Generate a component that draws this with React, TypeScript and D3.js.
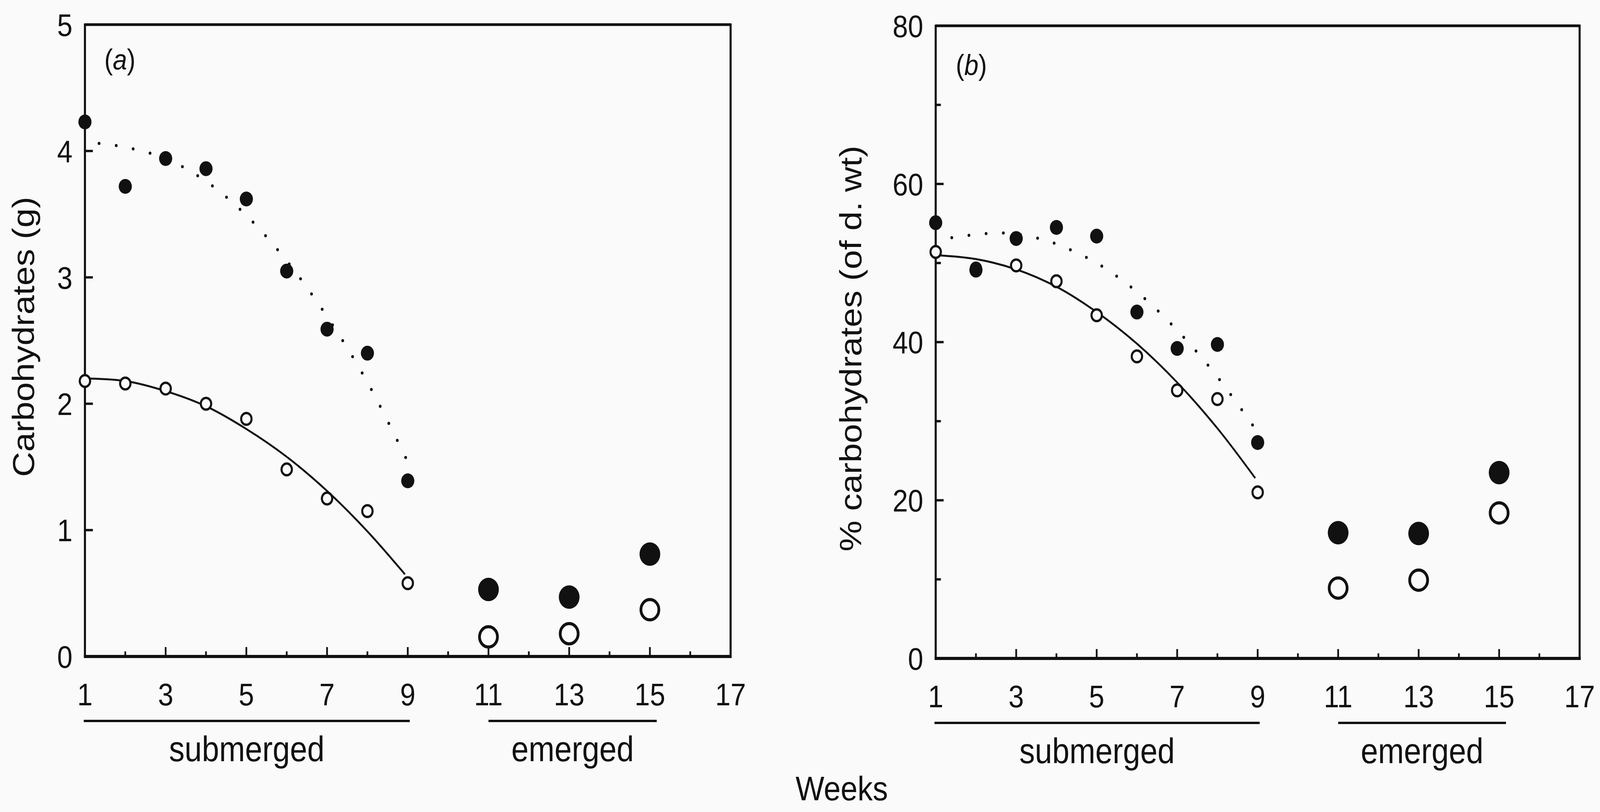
import React, { useEffect } from 'react';
import * as d3 from 'd3';

// ---------- data ----------
const weeksSub = [1, 2, 3, 4, 5, 6, 7, 8, 9];
const weeksEm = [11, 13, 15];
const xTickWeeks = [1, 2, 3, 4, 5, 6, 7, 8, 9, 10, 11, 12, 13, 14, 15, 16, 17];
const xLabelWeeks = [1, 3, 5, 7, 9, 11, 13, 15, 17];

// panel (a) Carbohydrates (g)
const aFilledSub = [4.23, 3.72, 3.94, 3.86, 3.62, 3.05, 2.59, 2.4, 1.39];
const aOpenSub = [2.18, 2.16, 2.12, 2.0, 1.88, 1.48, 1.25, 1.15, 0.58];
const aFilledEm = [0.53, 0.47, 0.81];
const aOpenEm = [0.155, 0.18, 0.37];
const aSolidWeeks = [1, 2, 3, 4, 5, 6, 7, 8, 8.93];
const aSolidVals = [2.2, 2.18, 2.1, 1.98, 1.8, 1.58, 1.31, 0.99, 0.65];
const aDotWeeks = [1.35, 2, 3, 4, 5, 6, 7, 8, 9];
const aDotVals = [4.06, 4.03, 3.94, 3.76, 3.49, 3.13, 2.69, 2.17, 1.54];
const aYTicks = [0, 1, 2, 3, 4, 5];
const aYMinor: number[] = [];

// panel (b) % carbohydrates (of d. wt)
const bFilledSub = [55.1, 49.1, 53.1, 54.5, 53.4, 43.8, 39.2, 39.7, 27.3];
const bOpenSub = [51.4, 49.3, 49.7, 47.7, 43.4, 38.2, 33.9, 32.8, 21.0];
const bFilledEm = [15.9, 15.8, 23.5];
const bOpenEm = [8.9, 9.9, 18.4];
const bSolidWeeks = [1, 2, 3, 4, 5, 6, 7, 8, 8.94];
const bSolidVals = [51.0, 50.5, 49.2, 47.0, 43.8, 39.8, 34.9, 29.1, 22.8];
const bDotWeeks = [1.4, 2, 2.65, 3.4, 4, 5, 6, 7, 8, 9];
const bDotVals = [53.2, 53.6, 53.8, 53.3, 52.4, 50.0, 46.35, 41.5, 35.6, 28.6];
const bYTicks = [0, 20, 40, 60, 80];
const bYMinor = [10, 30, 50, 70];

const phases = [
  { label: 'submerged', from: 0.97, to: 9.05 },
  { label: 'emerged', from: 11, to: 15.17 },
];

const INK = '#111';
const BG = '#fafafa';
const FONT = '"Liberation Sans", Arial, Helvetica, sans-serif';

type PanelProps = {
  x0: number; x1: number; yTop: number; yBot: number;
  yMax: number; yTicks: number[]; yMinor: number[];
  filledSub: number[]; openSub: number[]; filledEm: number[]; openEm: number[];
  solidW: number[]; solidV: number[]; dotW: number[]; dotV: number[];
  tag: string; tagX: number; tagY: number;
  yLabel: string; yLabelX: number; yLabelY: number;
};

function Panel(p: PanelProps) {
  const x = d3.scaleLinear().domain([1, 17]).range([p.x0, p.x1]);
  const y = d3.scaleLinear().domain([0, p.yMax]).range([p.yBot, p.yTop]);
  const line = d3.line<[number, number]>()
    .x(d => x(d[0]))
    .y(d => y(d[1]))
    .curve(d3.curveCatmullRom.alpha(0.5));
  const solid = line(p.solidW.map((w, i) => [w, p.solidV[i]] as [number, number])) || '';
  const dotted = line(p.dotW.map((w, i) => [w, p.dotV[i]] as [number, number])) || '';

  const labelBase = p.yBot + 125;
  const underY = p.yBot + 165;
  const phaseBase = p.yBot + 268;

  return (
    <g>
      {/* frame */}
      <line x1={p.x0} x2={p.x1} y1={p.yTop} y2={p.yTop} stroke={INK} strokeWidth={7} />
      <line x1={p.x1} x2={p.x1} y1={p.yTop - 3} y2={p.yBot + 4} stroke={INK} strokeWidth={6} />
      <line x1={p.x0} x2={p.x0} y1={p.yTop - 3} y2={p.yBot + 4} stroke={INK} strokeWidth={6} />
      <line x1={p.x0 - 3} x2={p.x1 + 3} y1={p.yBot} y2={p.yBot} stroke={INK} strokeWidth={8} />

      {/* x ticks */}
      {xTickWeeks.filter(w => w > 1 && w < 17).map(w => (
        <line key={'xt' + w} x1={x(w)} x2={x(w)} y1={p.yBot} y2={p.yBot - (w % 2 === 1 ? 24 : 13)}
          stroke={INK} strokeWidth={5} />
      ))}
      {xLabelWeeks.map(w => (
        <text key={'xl' + w} x={x(w)} y={labelBase} textAnchor="middle" fontSize={80}
          fontFamily={FONT} fill={INK}>{w}</text>
      ))}

      {/* y ticks */}
      {p.yTicks.filter(v => v > 0 && v < p.yMax).map(v => (
        <line key={'yt' + v} x1={p.x0} x2={p.x0 + 23} y1={y(v)} y2={y(v)} stroke={INK} strokeWidth={6} />
      ))}
      {p.yMinor.map(v => (
        <line key={'ym' + v} x1={p.x0} x2={p.x0 + 15} y1={y(v)} y2={y(v)} stroke={INK} strokeWidth={6} />
      ))}
      {p.yTicks.map(v => (
        <text key={'yl' + v} x={p.x0 - 36} y={y(v)} dy="0.36em" textAnchor="end" fontSize={80}
          fontFamily={FONT} fill={INK}>{v}</text>
      ))}

      {/* phase underlines and labels */}
      {phases.map(ph => (
        <g key={ph.label}>
          <line x1={x(ph.from)} x2={x(ph.to)} y1={underY} y2={underY} stroke={INK} strokeWidth={6} />
          <text x={(x(ph.from) + x(ph.to)) / 2} y={phaseBase} textAnchor="middle" fontSize={90}
            fontFamily={FONT} fill={INK}>{ph.label}</text>
        </g>
      ))}

      {/* fitted curves */}
      <path d={solid} fill="none" stroke={INK} strokeWidth={5} />
      <path d={dotted} fill="none" stroke={INK} strokeWidth={8} strokeLinecap="round"
        strokeDasharray="0 50" />

      {/* markers */}
      {weeksSub.map((w, i) => (
        <circle key={'os' + w} cx={x(w)} cy={y(p.openSub[i])} r={15} fill={BG} stroke={INK} strokeWidth={6} />
      ))}
      {weeksSub.map((w, i) => (
        <circle key={'fs' + w} cx={x(w)} cy={y(p.filledSub[i])} r={19} fill={INK} />
      ))}
      {weeksEm.map((w, i) => (
        <circle key={'oe' + w} cx={x(w)} cy={y(p.openEm[i])} r={26} fill={BG} stroke={INK} strokeWidth={8} />
      ))}
      {weeksEm.map((w, i) => (
        <circle key={'fe' + w} cx={x(w)} cy={y(p.filledEm[i])} r={30} fill={INK} />
      ))}

      {/* panel tag */}
      <text x={p.tagX} y={p.tagY} fontSize={74} fontFamily={FONT} fill={INK}>
        (<tspan fontStyle="italic">{p.tag}</tspan>)
      </text>

      {/* y axis title */}
      <text transform={`translate(${p.yLabelX},${p.yLabelY}) rotate(-90)`} textAnchor="middle"
        fontSize={89} fontFamily={FONT} fill={INK}>{p.yLabel}</text>
    </g>
  );
}

export default function App() {
  useEffect(() => {
    document.body.style.margin = '0';
    document.body.style.overflow = 'hidden';
    document.body.style.background = BG;
  }, []);
  return (
    <svg viewBox="0 0 4634 2078" preserveAspectRatio="none"
      style={{ position: 'fixed', left: 0, top: 0, width: '100vw', height: '100vh', display: 'block', background: BG }}>
      <rect x={0} y={0} width={4634} height={2078} fill={BG} />
      <Panel x0={246} x1={2116} yTop={63} yBot={1680} yMax={5} yTicks={aYTicks} yMinor={aYMinor}
        filledSub={aFilledSub} openSub={aOpenSub} filledEm={aFilledEm} openEm={aOpenEm}
        solidW={aSolidWeeks} solidV={aSolidVals} dotW={aDotWeeks} dotV={aDotVals}
        tag="a" tagX={302} tagY={178}
        yLabel="Carbohydrates (g)" yLabelX={98} yLabelY={862} />
      <Panel x0={2710} x1={4575} yTop={66} yBot={1685} yMax={80} yTicks={bYTicks} yMinor={bYMinor}
        filledSub={bFilledSub} openSub={bOpenSub} filledEm={bFilledEm} openEm={bOpenEm}
        solidW={bSolidWeeks} solidV={bSolidVals} dotW={bDotWeeks} dotV={bDotVals}
        tag="b" tagX={2768} tagY={192}
        yLabel="% carbohydrates (of d. wt)" yLabelX={2495} yLabelY={892} />
      <text x={2438} y={2048} textAnchor="middle" fontSize={88} fontFamily={FONT} fill={INK}>Weeks</text>
    </svg>
  );
}
